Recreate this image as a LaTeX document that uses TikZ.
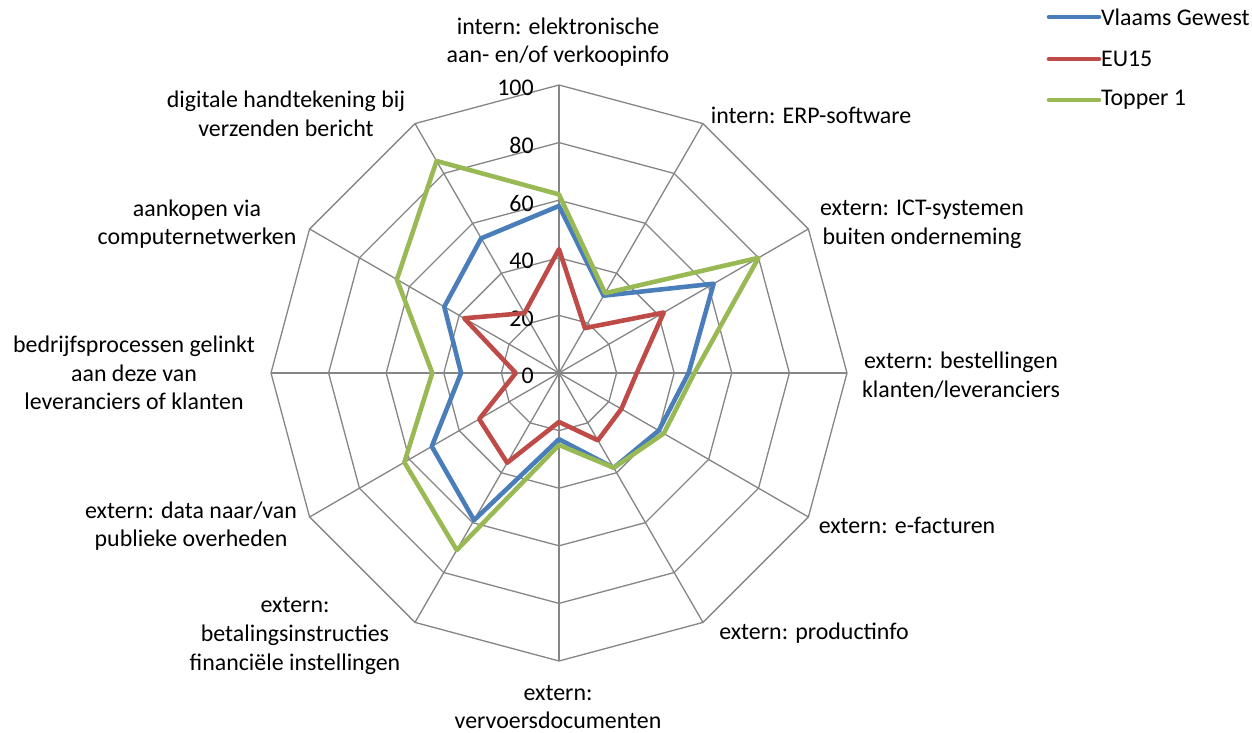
\documentclass[tikz,border=0pt]{standalone}
\usepackage{fontspec}
\setmainfont{Carlito}
\definecolor{gridgray}{HTML}{868686}
\definecolor{vgblue}{HTML}{4A7EBB}
\definecolor{eured}{HTML}{BE4B48}
\definecolor{topgreen}{HTML}{98B954}
\begin{document}
\begin{tikzpicture}[x=0.02cm,y=0.02cm,
  every node/.style={font=\fontsize{13.6}{16.3}\selectfont,align=center},
  ring/.style={draw=gridgray,line width=0.75pt},
  serie/.style={line width=2.6pt,line join=round},
  legline/.style={line width=2.6pt,line cap=round}]
\useasboundingbox (-559,-360) rectangle (693,373);
\coordinate (O) at (0,0);
% grid
\foreach \a in {0,30,...,330} \draw[ring] (O) -- (\a:288);
\foreach \r in {1,...,5} \draw[ring] (90:\r*57.6) \foreach \k in {1,...,11}{-- ({90-30*\k}:\r*57.6)} -- cycle;
\foreach \n in {0,20,...,100} \node[anchor=east,inner sep=0pt] (t\n) at (-25,{2.88*\n-3}) {\n};
% series
\foreach \v [count=\i from 0] in {58,31,62,45,40,38,23,59,51,34,46,54} \coordinate (b\i) at ({90-30*\i}:{2.88*\v});
\foreach \v [count=\i from 0] in {43,18,42,27,25,27,17,36,32,15,38,24} \coordinate (r\i) at ({90-30*\i}:{2.88*\v});
\foreach \v [count=\i from 0] in {62,32,80,47,42,38,25,71,62,44,65,85} \coordinate (g\i) at ({90-30*\i}:{2.88*\v});
\draw[serie,vgblue] (b0) \foreach \i in {1,...,11}{-- (b\i)} -- cycle;
\draw[serie,eured] (r0) \foreach \i in {1,...,11}{-- (r\i)} -- cycle;
\draw[serie,topgreen] (g0) \foreach \i in {1,...,11}{-- (g\i)} -- cycle;
% axis labels
\node (l1) at (-1,331) {intern: elektronische\\aan- en/of verkoopinfo};
\node (l2) at (252,258) {intern: ERP-software};
\node (l3) at (363,149) {extern: ICT-systemen\\buiten onderneming};
\node (l4) at (402,-2) {extern: bestellingen\\klanten/leveranciers};
\node (l5) at (348,-152) {extern: e-facturen};
\node (l6) at (255,-260) {extern: productinfo};
\node (l7) at (-1,-334) {extern:\\vervoersdocumenten};
\node (l8) at (-264,-263) {extern:\\betalingsinstructies\\financiële instellingen};
\node (l9) at (-368,-153) {extern: data naar/van\\publieke overheden};
\node (l10) at (-425,0) {bedrijfsprocessen gelinkt\\aan deze van\\leveranciers of klanten};
\node (l11) at (-362,149) {aankopen via\\computernetwerken};
\node (l12) at (-273,259) {digitale handtekening bij\\verzenden bericht};
% legend
\coordinate (v1) at (490,356); \coordinate (v2) at (540,356);
\coordinate (e1) at (490,314); \coordinate (e2) at (540,314);
\coordinate (p1) at (490,273); \coordinate (p2) at (540,273);
\draw[legline,vgblue] (v1) -- (v2); \node[anchor=west,inner sep=1pt] (vg) at (v2) {Vlaams Gewest};
\draw[legline,eured] (e1) -- (e2); \node[anchor=west,inner sep=1pt] (eu) at (e2) {EU15};
\draw[legline,topgreen] (p1) -- (p2); \node[anchor=west,inner sep=1pt] (tp) at (p2) {Topper 1};
\end{tikzpicture}
\end{document}
